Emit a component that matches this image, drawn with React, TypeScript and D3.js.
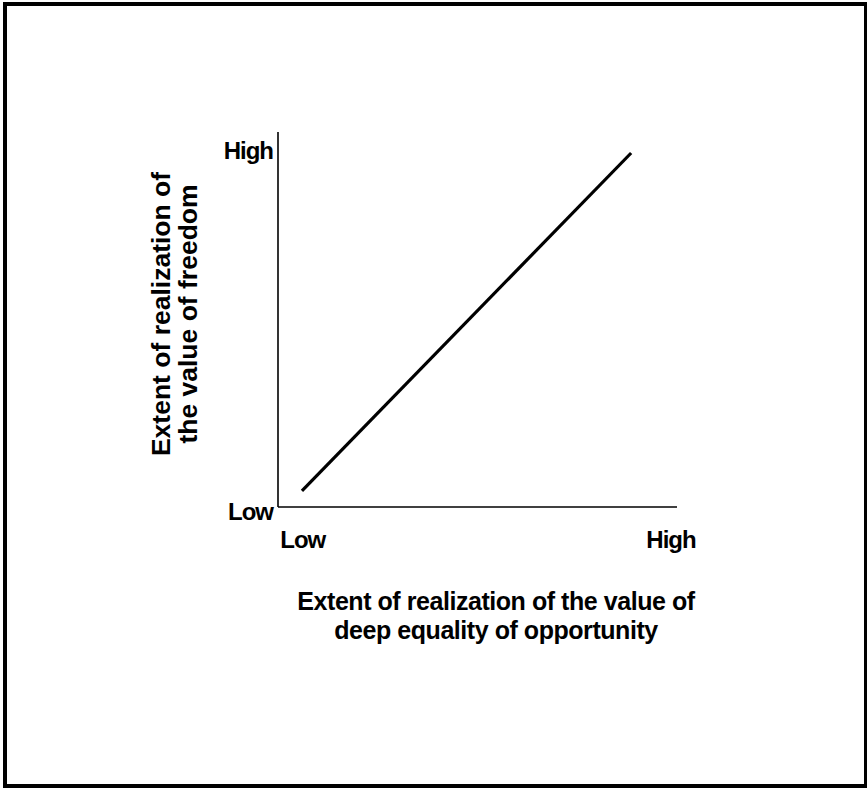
import React from "react";
import * as d3 from "d3";

const xDomain = [0, 10];
const yDomain = [0, 10];
const lineData: [number, number][] = [
  [0.6, 0.43],
  [8.85, 9.44],
];
const xTicks = [
  { v: 0.62, label: "Low" },
  { v: 9.85, label: "High" },
];
const yTicks = [
  { v: -0.13, label: "Low" },
  { v: 9.5, label: "High" },
];
const xTitle = ["Extent of realization of the value of", "deep equality of opportunity"];
const yTitle = ["Extent of realization of", "the value of freedom"];

export default function App() {
  const W = 867;
  const H = 788;
  const x = d3.scaleLinear().domain(xDomain).range([278, 677]);
  const y = d3.scaleLinear().domain(yDomain).range([507, 132]);
  const line = d3
    .line<[number, number]>()
    .x((d) => x(d[0]))
    .y((d) => y(d[1]));
  const font = "'Liberation Sans', Arial, sans-serif";
  return (
    <svg
      width={W}
      height={H}
      style={{ position: "absolute", left: 0, top: 0, background: "#fff" }}
      fontFamily={font}
      fontWeight="bold"
    >
      <rect x={5} y={4} width={861} height={782} fill="#fff" stroke="#000" strokeWidth={4} />
      {/* axes */}
      <line x1={x(0)} x2={x(0)} y1={y(10)} y2={y(0)} stroke="#000" strokeWidth={1.6} />
      <line x1={x(0)} x2={x(10)} y1={y(0)} y2={y(0)} stroke="#000" strokeWidth={1.6} />
      {/* data line */}
      <path d={line(lineData) || ""} fill="none" stroke="#000" strokeWidth={3.2} />
      {/* y ticks */}
      {yTicks.map((t) => (
        <text key={t.label} x={273} y={y(t.v)} dy="0.35em" textAnchor="end" fontSize={24} letterSpacing={-1}>
          {t.label}
        </text>
      ))}
      {/* x ticks */}
      {xTicks.map((t) => (
        <text key={t.label} x={x(t.v)} y={548} textAnchor="middle" fontSize={24} letterSpacing={-1}>
          {t.label}
        </text>
      ))}
      {/* x title */}
      {xTitle.map((s, i) => (
        <text key={s} x={496} y={610 + i * 29} textAnchor="middle" fontSize={25} letterSpacing={-0.45}>
          {s}
        </text>
      ))}
      {/* y title */}
      <g transform="translate(0,314) rotate(-90)">
        {yTitle.map((s, i) => (
          <text key={s} x={0} y={170 + i * 27} textAnchor="middle" fontSize={26.5}>
            {s}
          </text>
        ))}
      </g>
    </svg>
  );
}
